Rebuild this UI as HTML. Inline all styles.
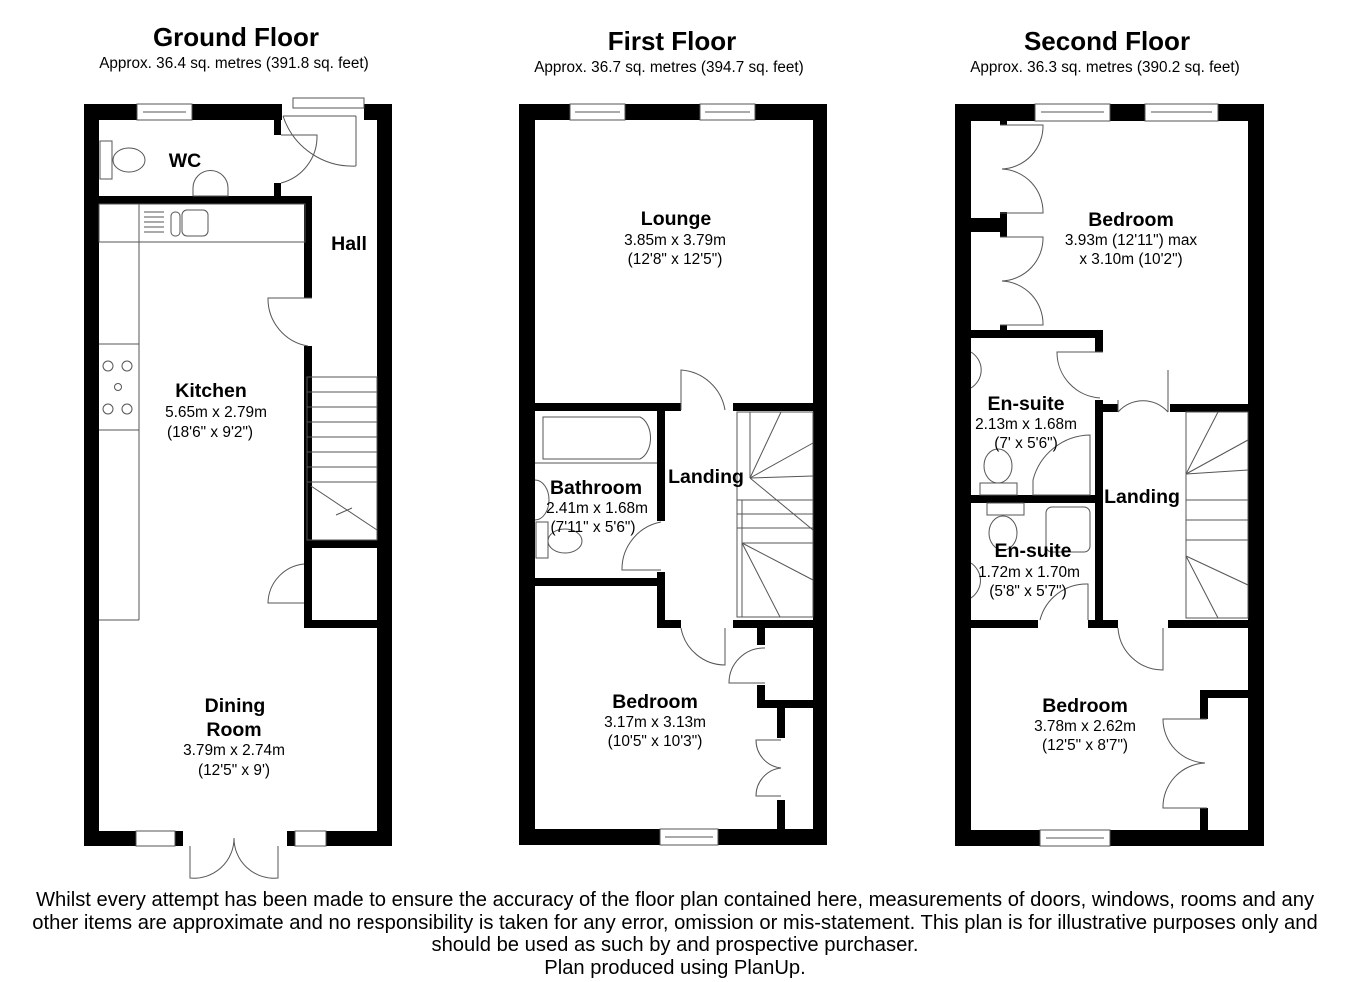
<!DOCTYPE html>
<html><head><meta charset="utf-8"><style>
html,body{margin:0;padding:0;background:#fff;width:1350px;height:982px;overflow:hidden}
svg{display:block}
text{font-family:"Liberation Sans",Arial,sans-serif;fill:#000}
.t{font-weight:bold;font-size:26px;text-anchor:middle}
.s{font-size:15.3px;text-anchor:middle}
.r{font-weight:bold;font-size:19.5px;text-anchor:middle}
.d{font-size:15.4px;text-anchor:middle}
.f{font-size:20.2px;text-anchor:middle}
.l{fill:none;stroke:#555;stroke-width:1}
.w{fill:#000}
.win{fill:#fff;stroke:#555;stroke-width:1}
</style></head><body>
<svg width="1350" height="982" viewBox="0 0 1350 982" xmlns="http://www.w3.org/2000/svg">
<text class="t" x="236" y="46">Ground Floor</text>
<text class="s" x="234" y="68">Approx. 36.4 sq. metres (391.8 sq. feet)</text>
<text class="t" x="672" y="50">First Floor</text>
<text class="s" x="669" y="72">Approx. 36.7 sq. metres (394.7 sq. feet)</text>
<text class="t" x="1107" y="50">Second Floor</text>
<text class="s" x="1105" y="72">Approx. 36.3 sq. metres (390.2 sq. feet)</text>

<!-- ===== GROUND FLOOR ===== -->
<g class="w">
<rect x="84" y="104" width="15" height="742"/>
<rect x="377" y="104" width="15" height="742"/>
<rect x="84" y="104" width="53" height="16"/>
<rect x="192" y="104" width="90" height="16"/>
<rect x="364" y="104" width="28" height="16"/>
<rect x="84" y="831" width="52" height="15"/>
<rect x="175" y="831" width="8" height="15"/>
<rect x="287" y="831" width="8" height="15"/>
<rect x="326" y="831" width="66" height="15"/>
<rect x="99" y="196" width="213" height="8"/>
<rect x="274" y="119" width="7" height="16"/>
<rect x="274" y="183" width="7" height="21"/>
<rect x="304" y="196" width="8" height="102"/>
<rect x="304" y="346" width="8" height="275"/>
<rect x="304" y="540" width="73" height="8"/>
<rect x="304" y="620" width="73" height="8"/>
</g>
<rect class="win" x="137" y="104" width="55" height="16"/>
<line class="l" x1="143" y1="112" x2="186" y2="112"/>
<rect class="win" x="136" y="831" width="39" height="15"/>
<rect class="win" x="295" y="831" width="31" height="15"/>
<rect class="win" x="293" y="98" width="71" height="10"/>
<path class="l" d="M283 116 L356 116 M356 116 L356 166 M283 116 A73 73 0 0 0 356 166"/>
<path class="l" d="M281 135 L317 135 A48 48 0 0 1 281 183"/>
<path class="l" d="M312 298 L268 298 A48 48 0 0 0 308 346"/>
<path class="l" d="M304 564 A40 40 0 0 0 268 603 L304 603"/>
<path class="l" d="M190 846 L190 878 A40 40 0 0 0 234 838 M278 846 L278 878 A40 40 0 0 1 234 838"/>
<rect class="l" x="100" y="141" width="12" height="38"/>
<ellipse class="l" cx="129" cy="160" rx="16" ry="12"/>
<path class="l" d="M193 196 L193 188 A16 16 0 0 1 228 188 L228 196 Z"/>
<rect class="l" x="99" y="204" width="206" height="38"/>
<line class="l" x1="139" y1="204" x2="139" y2="620"/>
<line class="l" x1="99" y1="620" x2="139" y2="620"/>
<line class="l" x1="99" y1="344" x2="139" y2="344"/>
<line class="l" x1="99" y1="430" x2="139" y2="430"/>
<rect class="l" x="182" y="210" width="26" height="26" rx="5"/>
<rect class="l" x="171" y="212" width="9" height="24" rx="4"/>
<g class="l"><line x1="144" y1="212" x2="164" y2="212"/><line x1="144" y1="217" x2="164" y2="217"/><line x1="144" y1="222" x2="164" y2="222"/><line x1="144" y1="227" x2="164" y2="227"/><line x1="144" y1="232" x2="164" y2="232"/></g>
<g class="l"><circle cx="108" cy="366" r="5"/><circle cx="127" cy="366" r="5"/><circle cx="118" cy="387" r="3.5"/><circle cx="108" cy="409" r="5"/><circle cx="127" cy="409" r="5"/></g>
<g class="l">
<rect x="307" y="377" width="70" height="163"/>
<line x1="307" y1="392" x2="377" y2="392"/><line x1="307" y1="407" x2="377" y2="407"/><line x1="307" y1="422" x2="377" y2="422"/><line x1="307" y1="437" x2="377" y2="437"/><line x1="307" y1="452" x2="377" y2="452"/><line x1="307" y1="467" x2="377" y2="467"/><line x1="307" y1="482" x2="377" y2="482"/>
<line x1="311" y1="486" x2="377" y2="530"/>
<line x1="336" y1="515" x2="352" y2="508"/>
</g>
<text class="r" x="185" y="167">WC</text>
<text class="r" x="349" y="250">Hall</text>
<text class="r" x="211" y="397">Kitchen</text>
<text class="d" x="216" y="417">5.65m x 2.79m</text>
<text class="d" x="210" y="437">(18'6" x 9'2")</text>
<text class="r" x="235" y="712">Dining</text>
<text class="r" x="234" y="736">Room</text>
<text class="d" x="234" y="755">3.79m x 2.74m</text>
<text class="d" x="234" y="775">(12'5" x 9')</text>

<!-- ===== FIRST FLOOR ===== -->
<g class="w">
<rect x="519" y="104" width="16" height="741"/>
<rect x="813" y="104" width="14" height="741"/>
<rect x="519" y="104" width="51" height="16"/>
<rect x="625" y="104" width="75" height="16"/>
<rect x="755" y="104" width="72" height="16"/>
<rect x="519" y="829" width="141" height="16"/>
<rect x="718" y="829" width="109" height="16"/>
<rect x="535" y="403" width="146" height="8"/>
<rect x="733" y="403" width="80" height="8"/>
<rect x="657" y="411" width="8" height="110"/>
<rect x="535" y="578" width="130" height="8"/>
<rect x="657" y="572" width="8" height="55"/>
<rect x="657" y="620" width="24" height="8"/>
<rect x="733" y="620" width="80" height="8"/>
<rect x="757" y="627" width="8" height="18"/>
<rect x="757" y="685" width="8" height="23"/>
<rect x="757" y="700" width="56" height="8"/>
<rect x="777" y="708" width="8" height="30"/>
<rect x="777" y="800" width="8" height="29"/>
</g>
<rect class="win" x="570" y="104" width="55" height="16"/><line class="l" x1="575" y1="112" x2="620" y2="112"/>
<rect class="win" x="700" y="104" width="55" height="16"/><line class="l" x1="705" y1="112" x2="750" y2="112"/>
<rect class="win" x="660" y="829" width="58" height="16"/><line class="l" x1="665" y1="837" x2="713" y2="837"/>
<path class="l" d="M681 410 L681 370 A48 48 0 0 1 725 410"/>
<path class="l" d="M661 522 A48 48 0 0 0 622 570 L661 570"/>
<path class="l" d="M681 628 A45 45 0 0 0 725 665 L725 628"/>
<path class="l" d="M765 648 A35 35 0 0 0 729 683 L765 683"/>
<path class="l" d="M781 740 L756 740 A28 28 0 0 0 781 768 A28 28 0 0 0 756 796 L781 796"/>
<path class="l" d="M543 417 L640 417 A15 22 0 0 1 640 459 L543 459 Z"/>
<line class="l" x1="535" y1="463" x2="657" y2="463"/>
<path class="l" d="M535 480 A14 20 0 0 1 535 520"/>
<rect class="l" x="536" y="522" width="12" height="36"/>
<ellipse class="l" cx="565" cy="541" rx="17" ry="12"/>
<g class="l">
<rect x="737" y="412" width="76" height="205"/>
<line x1="750" y1="412" x2="750" y2="478"/>
<line x1="750" y1="478" x2="781" y2="412"/><line x1="750" y1="478" x2="813" y2="443"/><line x1="750" y1="478" x2="813" y2="476"/>
<line x1="750" y1="478" x2="813" y2="530"/>
<line x1="737" y1="500" x2="813" y2="500"/><line x1="737" y1="514" x2="813" y2="514"/><line x1="737" y1="528" x2="813" y2="528"/>
<line x1="742" y1="543" x2="813" y2="543"/>
<line x1="742" y1="543" x2="813" y2="580"/><line x1="742" y1="543" x2="780" y2="617"/>
<line x1="742" y1="500" x2="742" y2="617"/>
</g>
<text class="r" x="676" y="225">Lounge</text>
<text class="d" x="675" y="245">3.85m x 3.79m</text>
<text class="d" x="675" y="264">(12'8" x 12'5")</text>
<text class="r" x="596" y="494">Bathroom</text>
<text class="d" x="597" y="513">2.41m x 1.68m</text>
<text class="d" x="593" y="532">(7'11" x 5'6")</text>
<text class="r" x="706" y="483">Landing</text>
<text class="r" x="655" y="708">Bedroom</text>
<text class="d" x="655" y="727">3.17m x 3.13m</text>
<text class="d" x="655" y="746">(10'5" x 10'3")</text>

<!-- ===== SECOND FLOOR ===== -->
<g class="w">
<rect x="955" y="104" width="16" height="742"/>
<rect x="1248" y="104" width="16" height="742"/>
<rect x="955" y="104" width="80" height="17"/>
<rect x="1110" y="104" width="35" height="17"/>
<rect x="1218" y="104" width="46" height="17"/>
<rect x="955" y="830" width="85" height="16"/>
<rect x="1110" y="830" width="154" height="16"/>
<rect x="1000" y="119" width="7" height="6"/>
<rect x="971" y="218" width="36" height="14"/>
<rect x="1000" y="212" width="7" height="25"/>
<rect x="1000" y="325" width="7" height="8"/>
<rect x="971" y="330" width="132" height="8"/>
<rect x="1095" y="330" width="8" height="22"/>
<rect x="1095" y="400" width="8" height="228"/>
<rect x="1095" y="404" width="23" height="8"/>
<rect x="1170" y="404" width="78" height="8"/>
<rect x="971" y="495" width="132" height="8"/>
<rect x="971" y="620" width="67" height="8"/>
<rect x="1088" y="620" width="30" height="8"/>
<rect x="1168" y="620" width="80" height="8"/>
<rect x="1200" y="690" width="48" height="8"/>
<rect x="1200" y="690" width="8" height="29"/>
<rect x="1200" y="808" width="8" height="22"/>
</g>
<rect class="win" x="1035" y="104" width="75" height="17"/><line class="l" x1="1041" y1="112" x2="1104" y2="112"/>
<rect class="win" x="1145" y="104" width="73" height="17"/><line class="l" x1="1151" y1="112" x2="1212" y2="112"/>
<rect class="win" x="1040" y="830" width="70" height="16"/><line class="l" x1="1046" y1="838" x2="1104" y2="838"/>
<path class="l" d="M1000 125 L1043 125 A43 43 0 0 1 1002 169 A43 43 0 0 1 1043 213 L1000 213"/>
<path class="l" d="M1000 237 L1043 237 A43 43 0 0 1 1002 281 A43 43 0 0 1 1043 325 L1000 325"/>
<path class="l" d="M1103 352 L1057 352 A46 46 0 0 0 1100 398"/>
<path class="l" d="M1118 412 A36 40 0 0 1 1168 412 M1168 412 L1168 370 M1118 412 L1118 400"/>
<path class="l" d="M1118 628 A45 45 0 0 0 1163 670 L1163 628"/>
<path class="l" d="M1040 620 A48 48 0 0 1 1088 584 L1088 620"/>
<path class="l" d="M1207 719 L1163 719 A44 44 0 0 0 1205 763 A44 44 0 0 0 1163 808 L1207 808"/>
<path class="l" d="M971 352 A24 22 0 0 1 971 388"/>
<ellipse class="l" cx="998" cy="466" rx="14" ry="17"/>
<rect class="l" x="980" y="483" width="37" height="12"/>
<path class="l" d="M1033 495 L1033 480 A60 60 0 0 1 1090 435 L1090 495 Z"/>
<rect class="l" x="987" y="503" width="37" height="12"/>
<ellipse class="l" cx="1003" cy="533" rx="14" ry="17"/>
<rect class="l" x="1046" y="507" width="44" height="45" rx="6"/>
<path class="l" d="M971 563 A24 22 0 0 1 971 598"/>
<g class="l">
<rect x="1186" y="412" width="62" height="206"/>
<line x1="1186" y1="474" x2="1218" y2="412"/><line x1="1186" y1="474" x2="1248" y2="440"/><line x1="1186" y1="474" x2="1248" y2="470"/>
<line x1="1186" y1="500" x2="1248" y2="500"/><line x1="1186" y1="520" x2="1248" y2="520"/><line x1="1186" y1="540" x2="1248" y2="540"/>
<line x1="1186" y1="556" x2="1248" y2="585"/><line x1="1186" y1="556" x2="1218" y2="618"/>
</g>
<text class="r" x="1131" y="226">Bedroom</text>
<text class="d" x="1131" y="245">3.93m (12'11") max</text>
<text class="d" x="1131" y="264">x 3.10m (10'2")</text>
<text class="r" x="1026" y="410">En-suite</text>
<text class="d" x="1026" y="429">2.13m x 1.68m</text>
<text class="d" x="1026" y="448">(7' x 5'6")</text>
<text class="r" x="1142" y="503">Landing</text>
<text class="r" x="1033" y="557">En-suite</text>
<text class="d" x="1029" y="577">1.72m x 1.70m</text>
<text class="d" x="1028" y="596">(5'8" x 5'7")</text>
<text class="r" x="1085" y="712">Bedroom</text>
<text class="d" x="1085" y="731">3.78m x 2.62m</text>
<text class="d" x="1085" y="750">(12'5" x 8'7")</text>

<text class="f" x="675" y="906">Whilst every attempt has been made to ensure the accuracy of the floor plan contained here, measurements of doors, windows, rooms and any</text>
<text class="f" x="675" y="929">other items are approximate and no responsibility is taken for any error, omission or mis-statement. This plan is for illustrative purposes only and</text>
<text class="f" x="675" y="951">should be used as such by and prospective purchaser.</text>
<text class="f" x="675" y="974">Plan produced using PlanUp.</text>
</svg>
</body></html>
